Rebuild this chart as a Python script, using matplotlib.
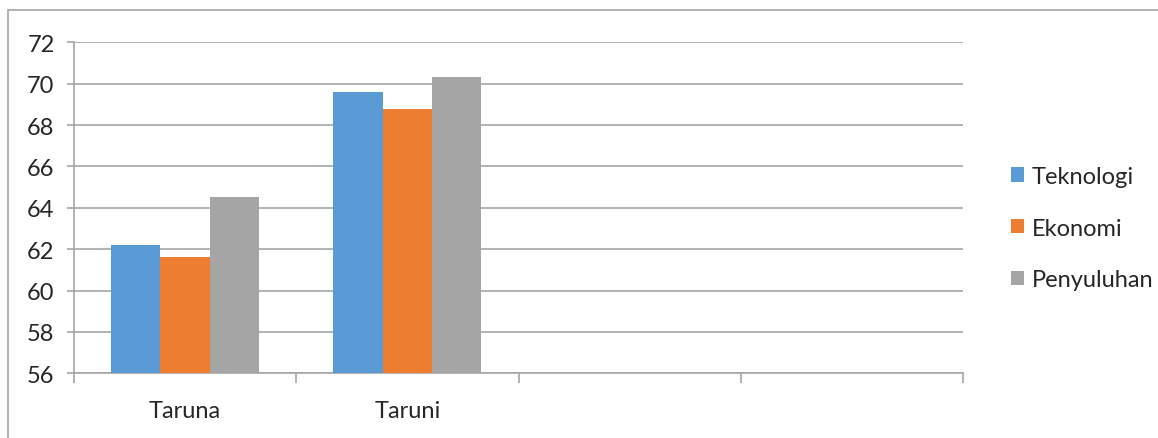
import numpy as np
import matplotlib.pyplot as plt
from matplotlib.patches import Rectangle

# nilai rata-rata per kelompok
kelompok = ['Taruna', 'Taruni', '', '']
seri = ['Teknologi', 'Ekonomi', 'Penyuluhan']
teknologi = [62.2, 69.6]
ekonomi = [61.6, 68.8]
penyuluhan = [64.5, 70.3]
warna = ['#5B9BD5', '#ED7D31', '#A5A5A5']

plt.rcParams['font.family'] = ['Lato', 'DejaVu Sans']
garis = '#A6A6A6'
teks = '#262626'

fig = plt.figure(figsize=(11.58, 4.39), dpi=100)
W, H = 1158, 439
ax = fig.add_axes([74 / W, 64.7 / H, (963 - 74) / W, (374.3 - 43.3) / H])

# bingkai luar
fig.patches.append(Rectangle((8 / W, -0.2), 2.0, 1.2 - 11 / H, transform=fig.transFigure,
                             fill=False, edgecolor=garis, linewidth=1.2, zorder=0))

lebar = 0.222
x = np.arange(len(teknologi))
for i, (nama, nilai) in enumerate(zip(seri, [teknologi, ekonomi, penyuluhan])):
    ax.bar(x + (i - 1) * lebar, np.array(nilai) - 56, bottom=56, width=lebar,
           color=warna[i], label=nama, zorder=3)

ax.set_xlim(-0.5, len(kelompok) - 0.5)
ax.set_ylim(56, 72)
ax.set_yticks(np.arange(56, 73, 2))
ax.set_xticks(np.arange(len(kelompok)))
ax.set_xticklabels(kelompok)
ax.set_xticks(np.arange(len(kelompok) + 1) - 0.5, minor=True)

ax.grid(axis='y', color=garis, linewidth=1.2, zorder=0)
for s in ['top', 'right']:
    ax.spines[s].set_visible(False)
for s in ['left', 'bottom']:
    ax.spines[s].set_color(garis)
    ax.spines[s].set_linewidth(1.2)

ax.tick_params(axis='y', length=5, width=1.2, color=garis, pad=9, labelsize=17, labelcolor=teks)
ax.tick_params(axis='x', which='major', length=0, pad=19, labelsize=17, labelcolor=teks)
ax.tick_params(axis='x', which='minor', length=7, width=1.2, color=garis)

fig.legend(loc='center left', bbox_to_anchor=(999 / W, (H - 229) / H), frameon=False,
           fontsize=17, handlelength=0.55, handleheight=0.55, handletextpad=0.35,
           labelspacing=1.3, borderpad=0, labelcolor=teks)

fig.savefig('out.png', dpi=100)
